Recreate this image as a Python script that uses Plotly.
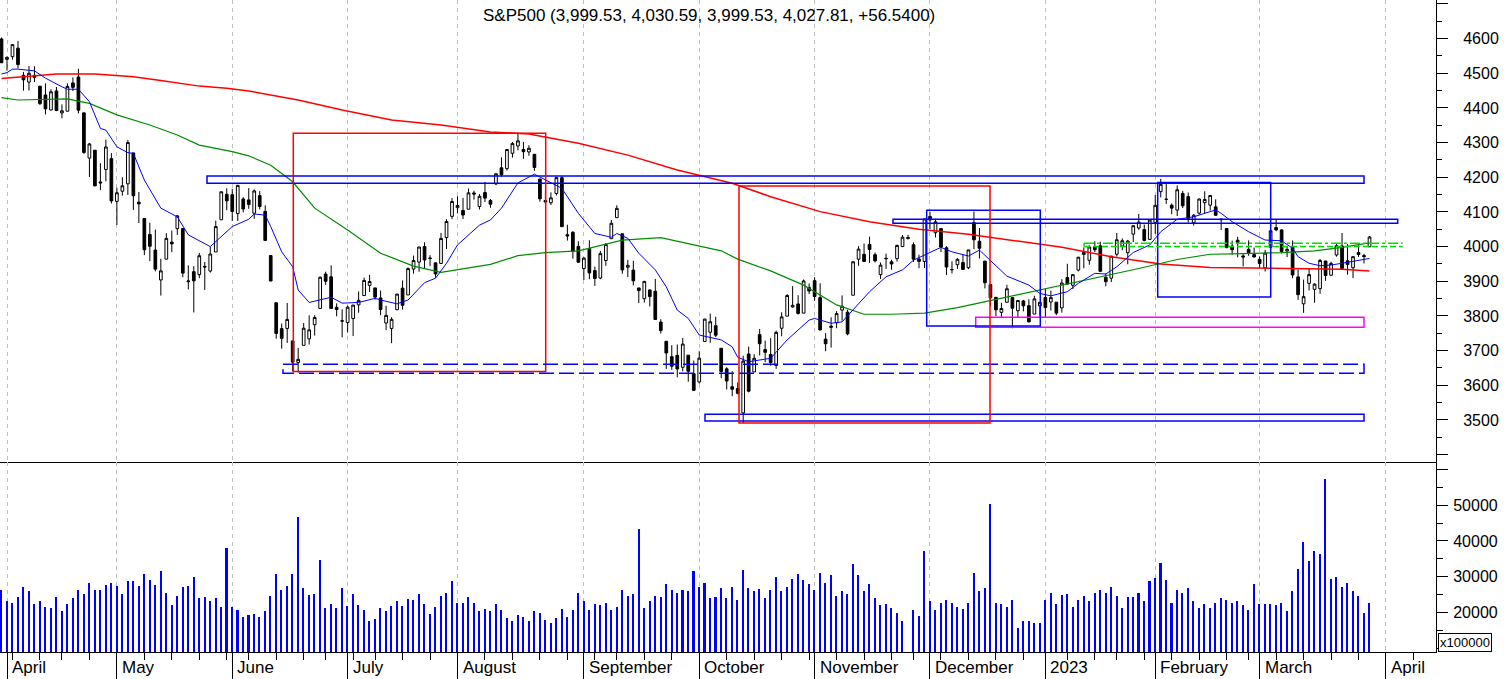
import plotly.graph_objects as go

# trading-day index (-1 = 31 Mar 2022, 0 = 1 Apr 2022 ... 248 = 29 Mar 2023)
day = list(range(-1, 249))

opens = [
    4599.02,
    4540.32, 4547.97, 4572.45, 4494.17, 4474.65, 4494.15, 4462.64, 4437.59, 4394.30, 4449.12,
    4385.63, 4390.63, 4472.26, 4489.17, 4385.83, 4255.34, 4278.14, 4186.52, 4222.58, 4253.75,
    4130.61, 4159.78, 4181.18, 4270.43, 4128.17, 4081.27, 4035.18, 3990.08, 3903.95, 3963.90,
    4013.02, 4052.00, 4051.98, 3899.00, 3927.76, 3919.42, 3942.94, 3929.59, 3984.60, 4077.43, 4151.09,
    4149.78, 4095.41, 4137.57, 4134.72, 4096.47, 4147.12, 4101.65, 3974.39, 3838.15, 3763.52,
    3764.05, 3728.18, 3665.90, 3715.31, 3733.89, 3774.71, 3821.75, 3920.76, 3913.00, 3825.09, 3785.99,
    3781.00, 3792.61, 3831.98, 3858.85, 3888.26, 3880.94, 3851.95, 3779.67, 3763.99, 3818.00,
    3880.23, 3860.73, 3935.32, 3955.47, 4000.25, 3965.72, 3953.22, 3951.43, 4026.13, 4087.33,
    4112.38, 4104.21, 4107.96, 4154.85, 4115.87, 4155.93, 4133.11, 4181.02, 4227.40, 4225.02,
    4269.37, 4290.46, 4280.40, 4273.13, 4266.31, 4195.08, 4133.09, 4126.55, 4153.26, 4198.74,
    4034.58, 4041.25, 4000.67,
    3936.73, 3994.66, 3930.89, 3909.43, 3959.94, 4022.94, 4083.67, 4037.12, 3940.73, 3932.41,
    3880.95, 3849.91, 3875.23, 3871.40, 3782.36, 3727.14, 3682.72, 3686.44, 3651.94, 3687.01, 3633.48,
    3609.78, 3726.46, 3753.25, 3771.97, 3706.74, 3647.51, 3595.86, 3590.83, 3520.37, 3690.41,
    3638.65, 3746.26, 3703.11, 3689.05, 3657.10, 3764.60, 3799.44, 3825.97, 3834.69, 3808.26, 3881.85,
    3901.79, 3852.90, 3733.25, 3766.98, 3780.71, 3817.02, 3810.94, 3859.89, 3963.72, 3977.97,
    4006.41, 3976.82, 3919.26, 3966.39, 3956.23, 3965.51, 4000.30, 4023.34, 4005.36, 3964.19, 3957.18,
    4087.14, 4040.17, 4052.02, 3996.63, 3933.28, 3947.79, 3954.17, 3939.29, 4069.38, 4015.54,
    3958.37, 3890.91, 3853.79, 3810.47, 3839.49, 3853.26, 3815.11, 3843.34, 3829.56, 3805.45, 3829.06,
    3853.29, 3840.36, 3839.74, 3823.37, 3910.82, 3888.57, 3932.35, 3977.57, 3960.60, 3999.28,
    4002.25, 3911.84, 3909.04, 3978.14, 4001.74, 3982.71, 4036.08, 4053.72, 4049.27, 4020.85,
    4070.07, 4158.68, 4136.69, 4119.57, 4105.35, 4153.47, 4144.25, 4068.92, 4096.62, 4126.70,
    4119.50, 4114.75, 4077.39, 4052.35, 4001.83, 4018.60, 3973.24, 3992.36, 3977.19,
    3963.34, 3938.68, 3998.02, 4055.15, 4048.26, 3987.55, 3998.66, 3912.77, 3835.12, 3894.01,
    3876.74, 3878.93, 3958.69, 3917.47, 3975.89, 4002.04, 3959.21, 3939.21, 3982.93, 3974.13, 3999.53,
]
highs = [
    4603.07,
    4548.70, 4583.50, 4593.45, 4503.94, 4521.16, 4520.41, 4464.35, 4471.00, 4453.92, 4460.46,
    4410.31, 4471.03, 4488.29, 4512.94, 4385.83, 4299.02, 4278.14, 4240.71, 4308.45, 4269.68,
    4169.81, 4200.10, 4307.66, 4270.43, 4157.69, 4081.27, 4068.82, 4049.09, 3964.80, 4038.88,
    4046.46, 4090.72, 4051.98, 3945.96, 3943.42, 3981.88, 3955.68, 3999.33, 4075.14, 4158.49, 4168.34,
    4166.54, 4177.51, 4142.67, 4168.78, 4164.86, 4160.14, 4119.10, 3974.39, 3838.15, 3778.18,
    3837.56, 3728.18, 3707.71, 3779.65, 3801.79, 3802.58, 3913.65, 3927.72, 3945.86, 3836.50, 3818.99,
    3829.82, 3832.19, 3870.91, 3910.63, 3918.50, 3880.94, 3873.41, 3829.44, 3796.41, 3863.62,
    3902.44, 3939.81, 3974.13, 3999.29, 4012.44, 3975.30, 3953.22, 4039.56, 4078.95, 4140.15,
    4144.95, 4140.47, 4167.66, 4161.29, 4151.58, 4186.62, 4137.30, 4211.03, 4257.91, 4280.47,
    4301.79, 4325.28, 4302.18, 4292.53, 4266.31, 4195.08, 4159.77, 4156.56, 4200.54, 4203.04,
    4062.99, 4044.98, 4015.37,
    3970.23, 4018.43, 3942.55, 3987.89, 4010.50, 4076.81, 4119.28, 4037.12, 3961.94, 3959.14,
    3880.95, 3900.45, 3876.01, 3907.07, 3790.78, 3727.14, 3715.67, 3717.53, 3736.74, 3687.01, 3671.44,
    3698.35, 3791.92, 3806.91, 3797.93, 3706.74, 3652.17, 3640.66, 3608.34, 3685.41, 3712.00,
    3689.73, 3762.79, 3728.58, 3736.00, 3757.89, 3810.74, 3862.85, 3886.15, 3859.95, 3905.42, 3893.73,
    3911.79, 3894.44, 3750.59, 3796.34, 3813.95, 3859.40, 3818.20, 3958.33, 4001.48, 4008.97,
    4028.84, 3983.09, 3954.33, 3979.89, 3962.00, 4005.88, 4033.78, 4034.02, 4012.27, 3976.77, 4080.11,
    4100.51, 4080.48, 4052.45, 4001.51, 3957.57, 3966.65, 3977.02, 3990.71, 4100.96, 4053.76,
    3958.37, 3890.91, 3854.86, 3838.24, 3889.82, 3853.26, 3845.80, 3846.65, 3848.32, 3858.19, 3839.85,
    3878.46, 3873.16, 3839.74, 3906.19, 3950.57, 3919.83, 3970.07, 3997.76, 4003.95, 4015.39,
    4014.16, 3922.94, 3972.96, 4039.31, 4023.92, 4019.55, 4061.57, 4094.21, 4063.85, 4077.16,
    4148.95, 4195.44, 4182.36, 4124.63, 4176.54, 4160.77, 4156.23, 4094.36, 4138.90, 4159.77,
    4148.11, 4136.54, 4081.51, 4052.35, 4017.37, 4028.30, 3978.25, 4018.05, 3997.50,
    3971.73, 3990.84, 4048.29, 4078.49, 4050.00, 4000.41, 4017.81, 3934.05, 3905.05, 3937.29,
    3894.26, 3964.46, 3958.91, 3956.62, 4009.08, 4039.49, 4007.66, 3972.74, 4003.83, 3979.20, 4030.59,
]
lows = [
    4530.41,
    4507.57, 4539.21, 4514.17, 4450.04, 4450.30, 4474.60, 4408.38, 4381.34, 4392.70, 4390.77,
    4370.30, 4390.63, 4448.76, 4384.47, 4267.62, 4200.82, 4175.04, 4162.90, 4188.63, 4124.28,
    4062.51, 4147.08, 4148.91, 4106.01, 4067.91, 3975.48, 3958.17, 3928.82, 3858.87, 3963.90,
    3983.99, 4033.93, 3911.91, 3876.58, 3810.32, 3909.04, 3875.13, 3925.03, 3984.60, 4077.43, 4104.88,
    4073.85, 4074.37, 4098.67, 4109.18, 4080.19, 4107.20, 4017.17, 3900.16, 3734.30, 3705.68,
    3722.30, 3639.77, 3636.87, 3715.31, 3717.69, 3743.52, 3821.75, 3889.66, 3820.14, 3799.02, 3738.67,
    3752.10, 3742.06, 3809.37, 3858.85, 3869.34, 3847.22, 3802.36, 3759.07, 3721.56, 3817.18,
    3818.63, 3860.73, 3922.03, 3927.64, 3938.24, 3943.46, 3910.74, 3951.43, 3992.97, 4079.22,
    4096.02, 4079.81, 4107.96, 4135.42, 4107.31, 4128.97, 4112.09, 4177.26, 4201.41, 4219.78,
    4256.90, 4277.77, 4253.08, 4261.98, 4218.70, 4129.86, 4124.03, 4119.97, 4147.59, 4057.66,
    4017.42, 3965.21, 3954.53,
    3903.65, 3906.21, 3886.75, 3906.03, 3944.81, 4022.94, 4083.67, 3921.89, 3912.54, 3888.28,
    3837.08, 3838.50, 3827.54, 3789.49, 3749.45, 3647.47, 3644.76, 3623.29, 3640.61, 3610.40, 3584.13,
    3604.93, 3726.46, 3722.66, 3739.22, 3620.73, 3588.10, 3568.45, 3573.86, 3491.58, 3579.68,
    3638.65, 3686.53, 3666.51, 3656.44, 3647.42, 3741.65, 3799.44, 3824.07, 3803.79, 3808.26, 3863.18,
    3843.80, 3758.68, 3698.15, 3708.84, 3764.70, 3786.28, 3744.22, 3859.89, 3944.82, 3956.40,
    3953.17, 3954.34, 3906.54, 3935.98, 3933.34, 3956.88, 3998.66, 4020.76, 3955.77, 3937.65, 3938.58,
    4050.87, 4026.63, 3984.49, 3918.39, 3922.68, 3935.83, 3933.04, 3935.30, 3993.03, 3965.65,
    3879.45, 3827.91, 3800.04, 3795.62, 3839.49, 3764.49, 3797.01, 3813.22, 3780.78, 3805.45, 3800.34,
    3794.33, 3815.77, 3802.42, 3809.56, 3890.42, 3877.29, 3928.54, 3937.56, 3947.67, 3984.57,
    3926.59, 3885.54, 3897.86, 3971.64, 3989.79, 3949.06, 4013.29, 4048.70, 4015.55, 4020.44,
    4037.20, 4141.88, 4123.36, 4093.38, 4088.39, 4111.35, 4069.67, 4060.79, 4092.67, 4095.01,
    4103.98, 4089.49, 4047.95, 3995.19, 3976.90, 3969.19, 3943.08, 3973.55, 3968.98,
    3939.05, 3928.16, 3995.17, 4044.61, 3980.31, 3969.76, 3908.70, 3846.32, 3808.86, 3873.63,
    3838.24, 3864.11, 3901.27, 3916.89, 3971.19, 3936.17, 3919.05, 3909.16, 3970.47, 3951.53, 3999.53,
]
closes = [
    4530.41,
    4545.86, 4582.64, 4525.12, 4481.15, 4500.21, 4488.28, 4412.53, 4397.45, 4446.59, 4392.59,
    4391.69, 4462.21, 4459.45, 4393.66, 4271.78, 4296.12, 4175.20, 4183.96, 4287.50, 4131.93,
    4155.38, 4175.48, 4300.17, 4146.87, 4123.34, 3991.24, 4001.05, 3935.18, 3930.08, 4023.89,
    4008.01, 4088.85, 3923.68, 3900.79, 3901.36, 3973.75, 3941.48, 3978.73, 4057.84, 4158.24, 4132.15,
    4101.23, 4176.82, 4108.54, 4121.43, 4160.68, 4115.77, 4017.82, 3900.86, 3749.63, 3735.48,
    3789.99, 3666.77, 3674.84, 3764.79, 3759.89, 3795.73, 3911.74, 3900.11, 3821.55, 3818.83, 3785.38,
    3825.33, 3831.39, 3845.08, 3902.62, 3899.38, 3854.43, 3818.80, 3801.78, 3790.38, 3863.16,
    3830.85, 3936.69, 3959.90, 3998.95, 3961.63, 3966.84, 3921.05, 4023.61, 4072.43, 4130.29,
    4118.63, 4091.19, 4155.17, 4151.94, 4145.19, 4140.06, 4122.47, 4210.24, 4207.27, 4280.15,
    4297.14, 4305.20, 4274.04, 4283.74, 4228.48, 4137.99, 4128.73, 4140.77, 4199.12, 4057.66,
    4030.61, 3986.16, 3955.00,
    3966.85, 3924.26, 3908.19, 3979.87, 4006.18, 4067.36, 4110.41, 3932.69, 3946.01, 3901.35,
    3873.33, 3899.89, 3855.93, 3789.93, 3757.99, 3693.23, 3655.04, 3647.29, 3719.04, 3640.47, 3585.62,
    3678.43, 3790.93, 3783.28, 3744.52, 3639.66, 3612.39, 3588.84, 3577.03, 3669.91, 3583.07,
    3677.95, 3719.98, 3695.16, 3665.78, 3752.75, 3797.34, 3859.11, 3830.60, 3807.30, 3901.06, 3871.98,
    3856.10, 3759.69, 3719.89, 3770.55, 3806.80, 3828.11, 3748.57, 3956.37, 3992.93, 3957.25,
    3991.73, 3958.79, 3946.56, 3965.34, 3949.94, 4003.58, 4027.26, 4026.12, 3963.94, 3957.63, 4080.11,
    4076.57, 4071.70, 3998.84, 3941.26, 3933.92, 3963.51, 3934.38, 3990.56, 4019.65, 3995.32,
    3895.75, 3852.36, 3817.66, 3821.62, 3878.44, 3822.39, 3844.82, 3829.25, 3783.22, 3849.28, 3839.50,
    3824.14, 3852.97, 3808.10, 3895.08, 3892.09, 3919.25, 3969.61, 3983.17, 3999.09, 3990.97,
    3928.86, 3898.85, 3972.61, 4019.81, 4016.95, 4016.22, 4060.43, 4070.56, 4017.77, 4076.60,
    4119.21, 4179.76, 4136.48, 4111.08, 4164.00, 4117.86, 4081.50, 4090.46, 4137.29, 4136.13,
    4147.60, 4090.41, 4079.09, 3997.34, 3991.05, 4012.32, 3970.04, 3982.24, 3970.15,
    3951.39, 3981.35, 4045.64, 4048.42, 3986.37, 3992.01, 3918.32, 3861.59, 3855.76, 3919.29,
    3891.93, 3960.28, 3916.64, 3951.57, 4002.87, 3936.97, 3948.72, 3970.99, 3977.53, 3971.27, 4027.81,
]
# volume, in units of 100000
volume = [
    26240,
    23250, 22600, 24280, 27080, 25960, 22320, 23160, 21480, 21200, 24280,
    20360, 22320, 24000, 26240, 25120, 28200, 26240, 26240, 27640, 28200,
    27360, 25120, 28760, 28760, 27360, 30720, 29040, 27640, 31560, 25400,
    22040, 24560, 27080, 27360, 29880, 24000, 24280, 23160, 24000, 21480, 38000,
    21480, 20640, 18680, 19240, 19520, 18680, 20360, 24560, 30720, 26240,
    27360, 30720, 46680, 26800, 24840, 25120, 34640, 21200, 22320, 21200, 26800,
    21760, 25120, 22040, 20640, 17560, 18120, 21200, 20360, 21760, 23160,
    21760, 23720, 23440, 25120, 22320, 19520, 21480, 24560, 25400, 28760,
    22600, 22600, 24280, 22600, 20360, 20920, 20360, 22320, 20640, 18400,
    17560, 19240, 18680, 17560, 20360, 19800, 17840, 17000, 18400, 20920,
    18680, 20640, 25400,
    23160, 20640, 22320, 22040, 22600, 20640, 21480, 26240, 24560, 25120,
    43320, 21200, 23160, 24560, 24280, 27920, 26240, 25400, 26240, 25960, 31560,
    27080, 28200, 24000, 24280, 26800, 24000, 27080, 23440, 31840, 26800,
    25960, 26520, 24000, 26240, 29880, 25960, 27080, 29320, 30720, 29040, 27920,
    26240, 31000, 28200, 30440, 24560, 25960, 25120, 33520, 30440, 25960,
    27920, 24000, 22040, 22320, 21200, 19800, 17560, 8000, 20640, 18960, 37160,
    23160, 20640, 22600, 23440, 22600, 21480, 20920, 22600, 31000, 25960,
    26800, 50320, 22600, 22320, 21480, 23440, 15600, 17560, 17560, 17000, 17000,
    23440, 25400, 22320, 24840, 25120, 21480, 23440, 24560, 23160, 25400,
    26240, 25400, 27080, 24560, 21200, 24280, 24280, 25400, 23160, 28770,
    29610, 33810, 29050, 22600, 26240, 25400, 26810, 23160, 21200, 22320,
    21200, 22600, 24000, 23440, 22600, 23160, 22040, 20640, 27930,
    22320, 22320, 22320, 22040, 22600, 20360, 25960, 32130, 39690, 34370,
    37170, 36330, 57340, 29330, 29890, 27080, 28200, 25960, 24560, 19800, 22600,
]

# moving averages (trading-day index, value)
ma_slow_day = [-1, 9, 16, 23, 28, 35, 40, 44, 53, 61, 70, 79, 88, 95, 104, 113, 122, 132,
               139, 148, 157, 166, 175, 183, 192, 201, 210, 219, 224, 235, 243, 248]
ma_slow = [4485, 4498, 4498, 4490, 4479, 4463, 4457, 4449, 4423, 4394, 4365, 4351, 4331, 4325,
           4298, 4264, 4221, 4183, 4144, 4101, 4072, 4050, 4036, 4019, 3998, 3971, 3950, 3940,
           3939, 3937, 3935, 3930]

ma_mid_day = [-1, 2, 11, 15, 20, 26, 31, 35, 41, 44, 48, 52, 56, 62, 68, 74, 79, 86, 88, 93,
              98, 104, 112, 119, 124, 130, 133, 139, 145, 151, 156, 161, 167, 173, 183, 192,
              199, 206, 213, 219, 223, 232, 238, 243, 248]
ma_mid = [4430, 4423, 4426, 4413, 4380, 4351, 4322, 4293, 4274, 4262, 4235, 4187, 4111, 4048,
          3981, 3944, 3926, 3944, 3949, 3974, 3983, 3988, 4019, 4026, 4008, 3988, 3964, 3930,
          3889, 3832, 3805, 3805, 3808, 3824, 3858, 3889, 3911, 3937, 3963, 3978, 3979, 3983,
          3988, 3998, 4011]

ma_fast_day = [-1, 0, 1, 2, 5, 7, 10, 11, 13, 15, 17, 18, 20, 22, 23, 25, 28, 31, 33, 37, 41,
               44, 45, 47, 48, 50, 52, 53, 55, 57, 59, 61, 64, 67, 68, 71, 73, 76, 78, 80, 82,
               86, 88, 90, 93, 96, 98, 101, 104, 107, 110, 111, 113, 115, 118, 120, 122, 124,
               126, 130, 132, 133, 135, 139, 142, 146, 147, 150, 152, 155, 157, 160, 163, 165,
               167, 170, 172, 175, 177, 179, 182, 186, 188, 190, 193, 195, 198, 200, 202, 205,
               208, 210, 213, 216, 219, 220, 221, 223, 226, 229, 232, 234, 235, 237, 239, 241,
               243, 245, 248]
ma_fast = [4498, 4502, 4512, 4512, 4507, 4486, 4461, 4454, 4454, 4418, 4341, 4336, 4288, 4271,
           4269, 4192, 4111, 4086, 4034, 4000, 4058, 4079, 4094, 4091, 4058, 3985, 3942, 3875,
           3839, 3846, 3854, 3837, 3839, 3851, 3846, 3835, 3846, 3896, 3909, 3952, 4005, 4062,
           4077, 4111, 4184, 4209, 4192, 4168, 4096, 4038, 4027, 4038, 4024, 3981, 3933, 3884,
           3817, 3793, 3745, 3731, 3711, 3681, 3668, 3678, 3731, 3788, 3793, 3779, 3783, 3837,
           3870, 3913, 3933, 3961, 3976, 3998, 3985, 3973, 3990, 3961, 3915, 3889, 3865, 3858,
           3870, 3894, 3923, 3921, 3942, 3983, 4005, 4043, 4079, 4086, 4101, 4106, 4096, 4072,
           4043, 4019, 4017, 3995, 3971, 3952, 3945, 3947, 3952, 3957, 3966]

month_names = ["April", "May", "June", "July", "August", "September", "October",
               "November", "December", "2023", "February", "March", "April"]
month_start = [0, 20, 41, 62, 82, 105, 126, 147, 168, 189, 209, 228, 251]
week_start = [1, 6, 10, 15, 25, 30, 35, 40, 44, 49, 54, 58, 63, 67, 72, 77, 87, 92, 97, 102,
              107, 111, 116, 121, 131, 136, 141, 146, 151, 156, 161, 165, 170, 175, 180, 185,
              193, 198, 202, 207, 212, 217, 222, 226, 231, 236, 241, 246, 256]

price_ticks = list(range(3400, 4800, 100))
vol_ticks = [20000, 30000, 40000, 50000, 60000]

FONT = "Liberation Sans, Arial, sans-serif"
W, H = 1506, 679
PLOT_R = 1436          # right axis position in px
PLOT_B = 652           # bottom of volume panel in px
SPLIT = 462            # panel separator in px
PX_PER_DAY = 5.494
X0 = 7                 # px of day 0


def px_to_day(px):
    return (px - X0) / PX_PER_DAY


def py_to_price(py):
    return 4200 - (py - 177.3) / 0.3467


fig = go.Figure()

fig.add_trace(go.Scatter(x=ma_slow_day, y=ma_slow, mode="lines",
                         line=dict(color="#ff0000", width=1.5), hoverinfo="skip"))
fig.add_trace(go.Scatter(x=ma_mid_day, y=ma_mid, mode="lines",
                         line=dict(color="#008c00", width=1.2), hoverinfo="skip"))
fig.add_trace(go.Scatter(x=ma_fast_day, y=ma_fast, mode="lines",
                         line=dict(color="#0000ff", width=1), hoverinfo="skip"))

fig.add_trace(go.Candlestick(
    x=day, open=opens, high=highs, low=lows, close=closes,
    increasing=dict(line=dict(color="black", width=1), fillcolor="white"),
    decreasing=dict(line=dict(color="black", width=1), fillcolor="black"),
    whiskerwidth=0, hoverinfo="skip",
))

fig.add_trace(go.Bar(x=day, y=volume, xaxis="x2", yaxis="y2", width=0.28,
                     marker=dict(color="#0000ff", line=dict(width=0)), hoverinfo="skip"))

# drawn boxes / levels, defined in screen px and mapped to data space
def box(x0, y0, x1, y1, color, dash="solid", width=1.5):
    fig.add_shape(type="rect", xref="x", yref="y",
                  x0=px_to_day(x0), x1=px_to_day(x1),
                  y0=py_to_price(y0), y1=py_to_price(y1),
                  line=dict(color=color, width=width, dash=dash))


box(207, 176, 1364, 183.3, "#0000ff")
box(893, 219.3, 1397.7, 223.3, "#0000ff")
box(293.3, 133.3, 545.7, 371.5, "#ff0000")
box(283, 364.3, 1364, 373.3, "#0000ff", dash="15px,5px")
box(705, 414.3, 1364, 421, "#0000ff")
box(975.7, 317.3, 1364, 327.2, "#ff00ff")
box(926.7, 210.3, 1040.3, 326, "#0000ff")
box(1157.7, 182.5, 1270.7, 297, "#0000ff")
box(739, 186, 990, 423, "#ff0000")
for gy, dsh in [(243.3, "10px,3px,3px,3px"), (246.5, "6px,3px")]:
    fig.add_shape(type="line", xref="x", yref="y",
                  x0=px_to_day(1084), x1=px_to_day(1402.7),
                  y0=py_to_price(gy), y1=py_to_price(gy),
                  line=dict(color="#00e000", width=1.5, dash=dsh))
fig.add_shape(type="line", xref="x", yref="y",
              x0=px_to_day(1084), x1=px_to_day(1084),
              y0=py_to_price(243.3), y1=py_to_price(246.5),
              line=dict(color="#00e000", width=1.5))

split_frac = (PLOT_B - SPLIT) / PLOT_B
xrange = [px_to_day(0), px_to_day(PLOT_R)]

grid = dict(showgrid=True, gridcolor="#c0c0c0", griddash="4px,4px", gridwidth=1,
            tickmode="array", tickvals=month_start, zeroline=False)

fig.update_layout(
    width=W, height=H,
    margin=dict(l=0, r=W - PLOT_R, t=0, b=H - PLOT_B),
    paper_bgcolor="white", plot_bgcolor="white",
    showlegend=False, hovermode=False,
    font=dict(family=FONT, size=16, color="black"),
    xaxis=dict(domain=[0, 1], range=xrange, anchor="y", showline=True, linecolor="black",
               linewidth=1, ticks="", showticklabels=False, rangeslider=dict(visible=False),
               **grid),
    yaxis=dict(domain=[split_frac, 1], range=[py_to_price(SPLIT), py_to_price(0)],
               side="right", anchor="x", showline=True, linecolor="black", linewidth=1,
               showgrid=False, zeroline=False, ticks="outside", ticklen=11, tickcolor="black",
               tickmode="array", tickvals=price_ticks,
               ticktext=[str(v) if 3500 <= v <= 4600 else "" for v in price_ticks],
               ticklabelstandoff=12, tickfont=dict(size=16),
               minor=dict(ticks="outside", ticklen=5, tickcolor="black", dtick=50, tick0=0,
                          showgrid=False)),
    xaxis2=dict(domain=[0, 1], range=xrange, anchor="y2", showline=True, linecolor="black",
                linewidth=1, ticks="outside", ticklen=27, tickcolor="black",
                showticklabels=False,
                minor=dict(ticks="outside", ticklen=7, tickcolor="black", tickmode="array",
                           tickvals=week_start, showgrid=False),
                **grid),
    yaxis2=dict(domain=[0, split_frac], range=[8880, 62100], side="right", anchor="x2",
                showline=True, linecolor="black", linewidth=1, showgrid=False, zeroline=False,
                ticks="outside", ticklen=11, tickcolor="black", tickmode="array",
                tickvals=vol_ticks,
                ticktext=[str(v) if v <= 50000 else "" for v in vol_ticks],
                ticklabelstandoff=2, tickfont=dict(size=16),
                minor=dict(ticks="outside", ticklen=6, tickcolor="black", dtick=5000, tick0=0,
                           showgrid=False)),
    bargap=0,
)

fig.add_annotation(
    text="S&P500 (3,999.53, 4,030.59, 3,999.53, 4,027.81, +56.5400)",
    xref="paper", yref="paper", x=709 / PLOT_R, y=(PLOT_B - 16) / PLOT_B,
    xanchor="center", yanchor="middle", showarrow=False,
    font=dict(family=FONT, size=17, color="black"),
)

for name, m in zip(month_names, month_start):
    fig.add_annotation(text=name, xref="x2", yref="paper", x=m, xshift=3,
                       y=(PLOT_B - 667) / PLOT_B, xanchor="left", yanchor="middle",
                       showarrow=False, font=dict(family=FONT, size=17, color="black"))

fig.add_annotation(text="x100000", xref="paper", yref="paper",
                   x=1465 / PLOT_R, y=(PLOT_B - 642.5) / PLOT_B,
                   xanchor="center", yanchor="middle", showarrow=False,
                   bordercolor="black", borderwidth=1, borderpad=1, bgcolor="white",
                   font=dict(family=FONT, size=13, color="black"))

fig.write_html("out.html", config={"displayModeBar": False},
               post_script="document.body.style.margin='0px';")
